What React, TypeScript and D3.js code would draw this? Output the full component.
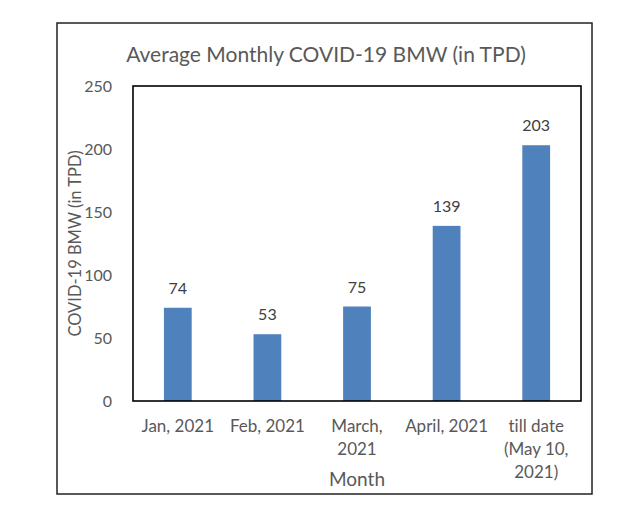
import * as d3 from 'd3'

const months = ['Jan, 2021', 'Feb, 2021', 'March,\n2021', 'April, 2021', 'till date\n(May 10,\n2021)']
const bmw = [74, 53, 75, 139, 203]
const yTicks = [0, 50, 100, 150, 200, 250]

const title = 'Average Monthly COVID-19 BMW (in TPD)'
const xTitle = 'Month'
const yTitle = 'COVID-19 BMW (in TPD)'

const W = 644, H = 527
const plot = { left: 133, right: 581, top: 86, bottom: 401 }
const font = 'Lato, "Open Sans", sans-serif'

export default function App() {
  const x = d3.scaleBand()
    .domain(months)
    .range([plot.left, plot.right])
    .paddingInner(0.69)
    .paddingOuter(0.345)

  const y = d3.scaleLinear()
    .domain([0, 250])
    .range([plot.bottom, plot.top])

  return (
    <svg width={W} height={H}
      style={{ position: 'absolute', left: 0, top: 0, fontFamily: font, fontVariantLigatures: 'none' }}>
      <rect x={0} y={0} width={W} height={H} fill="#fff" />
      {/* outer chart border */}
      <rect x={57} y={23} width={535} height={471} fill="none" stroke="#222" strokeWidth={1.5} />

      <text x={326} y={62} textAnchor="middle" fontSize={21} fill="#595959">{title}</text>

      {/* y ticks */}
      {yTicks.map(t => (
        <text key={t} x={112} y={y(t)} dy="0.36em" textAnchor="end" fontSize={16} fill="#595959">{t}</text>
      ))}

      {/* bars */}
      {bmw.map((v, i) => (
        <g key={i}>
          <rect x={x(months[i])} y={y(v)} width={x.bandwidth()} height={y(0) - y(v)} fill="#4F81BD" />
          <text x={x(months[i])! + x.bandwidth() / 2} y={y(v) - 14} textAnchor="middle" fontSize={16} fill="#404040">{v}</text>
        </g>
      ))}

      {/* plot frame */}
      <rect x={plot.left} y={plot.top} width={plot.right - plot.left} height={plot.bottom - plot.top}
        fill="none" stroke="#000" strokeWidth={1.6} />

      {/* category labels */}
      {months.map(m => (
        <text key={m} textAnchor="middle" fontSize={17} fill="#595959">
          {m.split('\n').map((line, j) => (
            <tspan key={j} x={x(m)! + x.bandwidth() / 2} y={432 + j * 23}>{line}</tspan>
          ))}
        </text>
      ))}

      <text x={(plot.left + plot.right) / 2} y={486} textAnchor="middle" fontSize={19} fill="#595959">{xTitle}</text>
      <text transform={`translate(81,${(plot.top + plot.bottom) / 2}) rotate(-90)`} textAnchor="middle"
        fontSize={16.5} fill="#595959">{yTitle}</text>
    </svg>
  )
}
